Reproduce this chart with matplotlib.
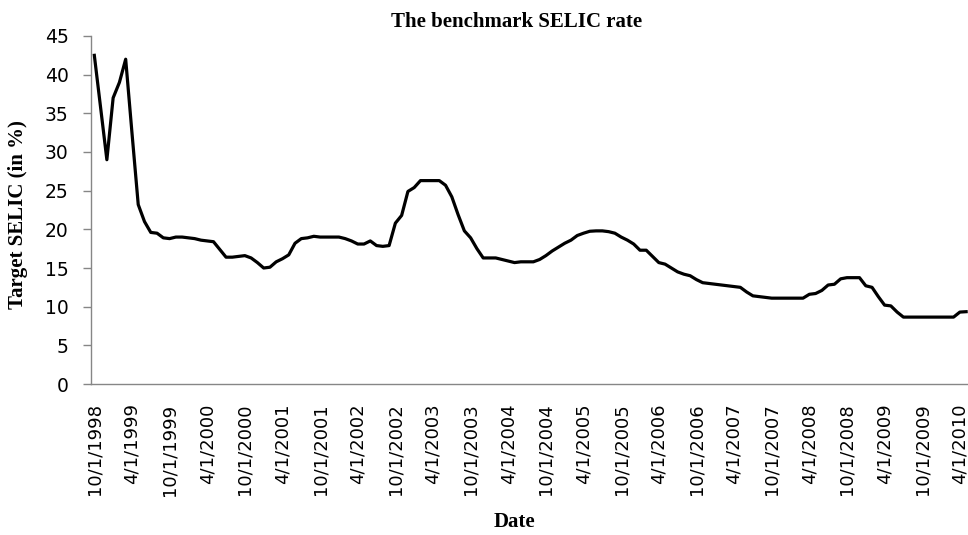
import numpy as np
import matplotlib
matplotlib.use("Agg")
import matplotlib.pyplot as plt

# monthly target SELIC (%), Oct 1998 onwards
selic = [42.5, 35.8, 29.0, 37.0, 39.0, 42.0, 32.5, 23.2, 21.0, 19.6,
         19.5, 18.9, 18.8, 19.0, 19.0, 18.9, 18.8, 18.6, 18.5, 18.4,
         17.4, 16.4, 16.4, 16.5, 16.6, 16.3, 15.7, 15.0, 15.1, 15.8,
         16.2, 16.7, 18.2, 18.8, 18.9, 19.1, 19.0, 19.0, 19.0, 19.0,
         18.8, 18.5, 18.1, 18.1, 18.5, 17.9, 17.8, 17.9, 20.8, 21.8,
         24.9, 25.4, 26.3, 26.3, 26.3, 26.3, 25.7, 24.2, 21.9, 19.8,
         18.9, 17.5, 16.3, 16.3, 16.3, 16.1, 15.9, 15.7, 15.8, 15.8,
         15.8, 16.1, 16.6, 17.2, 17.7, 18.2, 18.6, 19.2, 19.5, 19.75,
         19.8, 19.8, 19.7, 19.5, 19.0, 18.6, 18.1, 17.3, 17.3, 16.5,
         15.7, 15.5, 15.0, 14.5, 14.2, 14.0, 13.5, 13.1, 13.0, 12.9,
         12.8, 12.7, 12.6, 12.5, 11.9, 11.4, 11.3, 11.2, 11.1, 11.1,
         11.1, 11.1, 11.1, 11.1, 11.6, 11.7, 12.1, 12.8, 12.9, 13.6,
         13.75, 13.75, 13.75, 12.7, 12.5, 11.3, 10.2, 10.1, 9.3, 8.65,
         8.65, 8.65, 8.65, 8.65, 8.65, 8.65, 8.65, 8.65, 9.3, 9.35]

date_labels = ["10/1/1998", "4/1/1999", "10/1/1999", "4/1/2000", "10/1/2000",
               "4/1/2001", "10/1/2001", "4/1/2002", "10/1/2002", "4/1/2003",
               "10/1/2003", "4/1/2004", "10/1/2004", "4/1/2005", "10/1/2005",
               "4/1/2006", "10/1/2006", "4/1/2007", "10/1/2007", "4/1/2008",
               "10/1/2008", "4/1/2009", "10/1/2009", "4/1/2010"]
y_ticks = [0, 5, 10, 15, 20, 25, 30, 35, 40, 45]

fig = plt.figure(figsize=(9.68, 5.35), dpi=100)
ax = fig.add_axes([91/968, 151/535, 877/968, 348/535])

x = np.arange(len(selic))
ax.plot(x, selic, color="black", lw=2.3, solid_joinstyle="round")

ax.set_xlim(-0.53, 139.3)
ax.set_ylim(0, 45)
ax.set_yticks(y_ticks)
ax.set_xticks(np.arange(len(date_labels)) * 6)
ax.set_xticklabels(date_labels, rotation=90, fontsize=13, va="top", ha="center")
ax.tick_params(axis="x", length=0, pad=14)
ax.tick_params(axis="y", length=6, width=1, color="#868686", labelsize=13.5, pad=10)

for s in ["top", "right"]:
    ax.spines[s].set_visible(False)
for s in ["left", "bottom"]:
    ax.spines[s].set_color("#868686")
    ax.spines[s].set_linewidth(1)

serif = "Liberation Serif"
fig.text(517/968, 1 - 22/535, "The benchmark SELIC rate", family=serif,
         weight="bold", fontsize=15, ha="center", va="center")
fig.text(18/968, 1 - 215/535, "Target SELIC (in %)", family=serif,
         weight="bold", fontsize=15, rotation=90, ha="center", va="center")
fig.text(514/968, 1 - 522/535, "Date", family=serif, weight="bold",
         fontsize=15, ha="center", va="center")

fig.savefig("out.png", dpi=100)
